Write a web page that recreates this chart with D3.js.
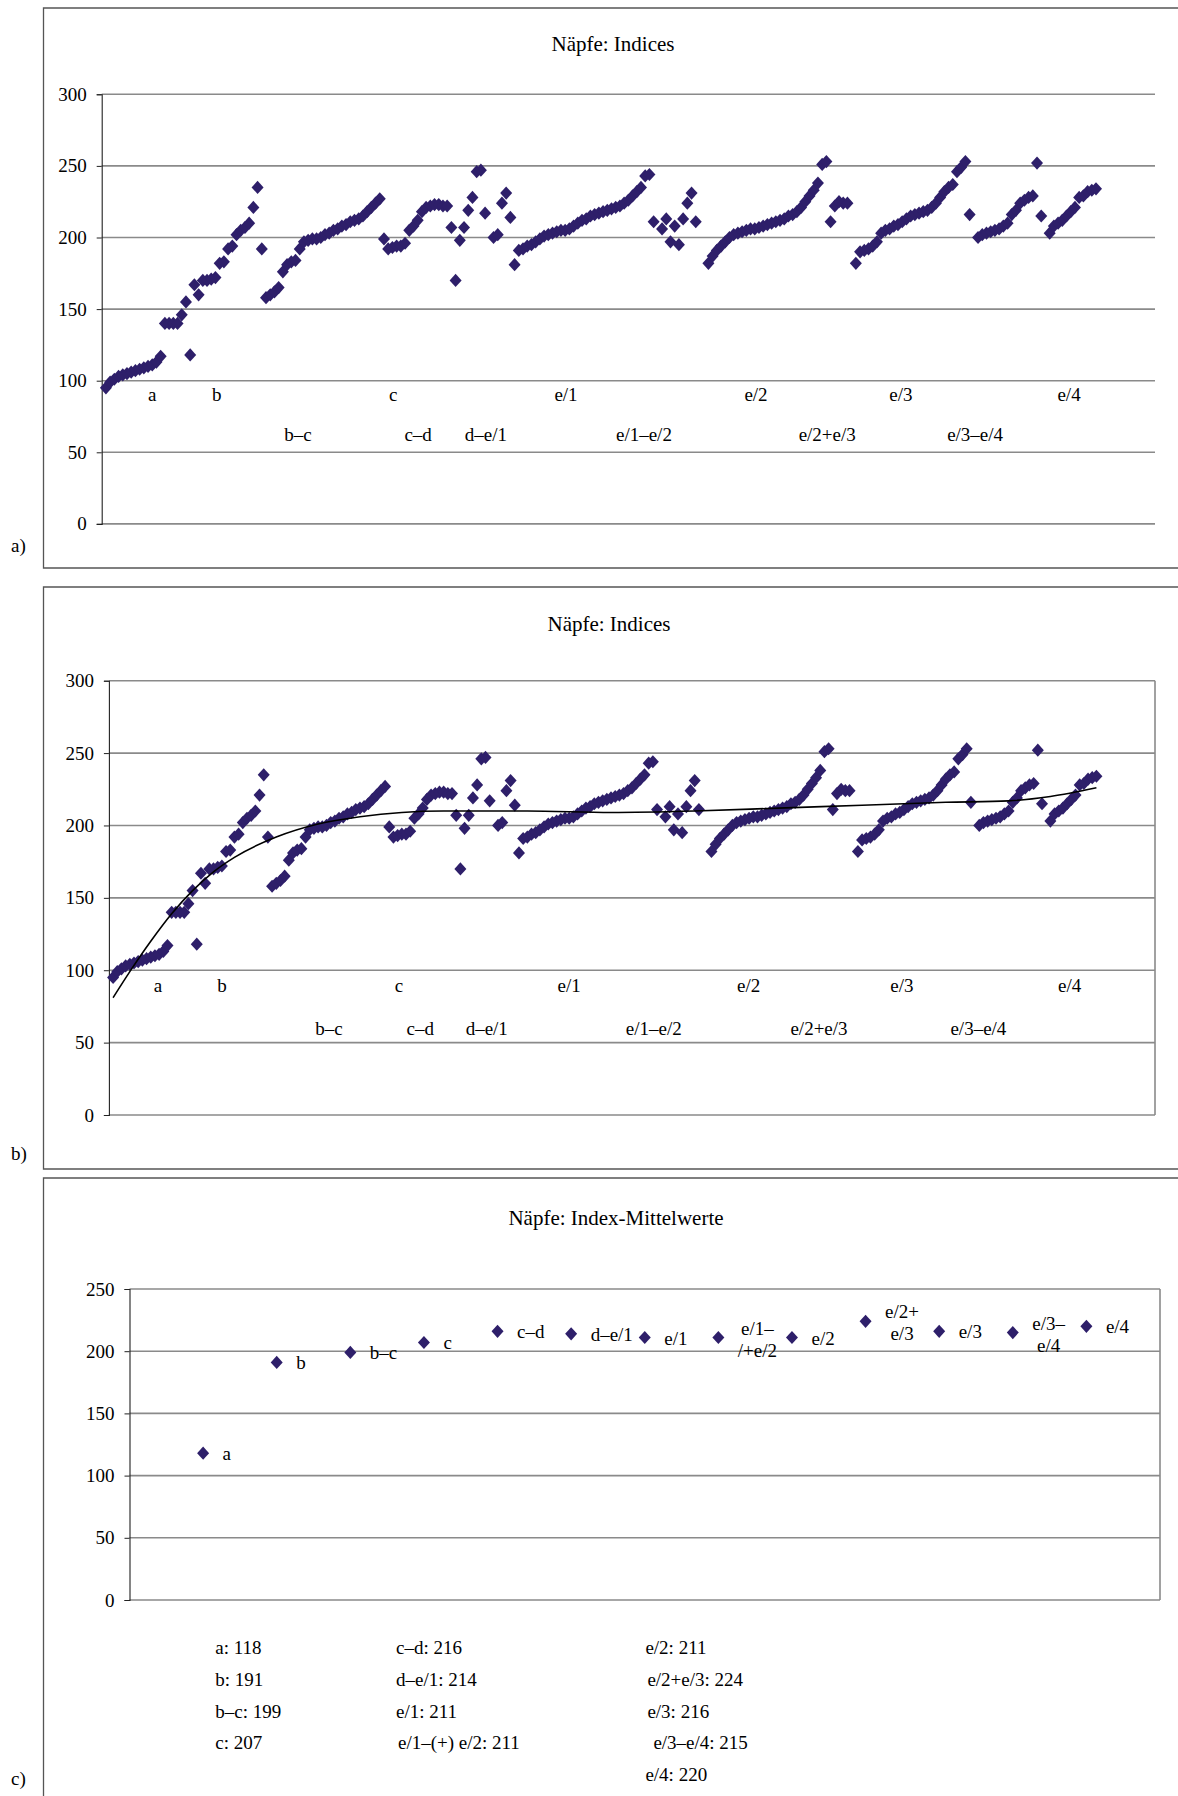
<!DOCTYPE html>
<html>
<head>
<meta charset="utf-8">
<script src="https://cdn.jsdelivr.net/npm/d3@7"></script>
<style>
  body { margin: 0; background: #fff; }
  text { font-family: "Liberation Serif", "Times New Roman", serif; fill: #000; }
</style>
</head>
<body>
<svg width="1178" height="1796"></svg>
<script>
// ---- data ----
// index values of the bowls, in order of the sample (x = 1 .. n); null = no value at that position
var indexValues = [
  95, 99, 101, 103, 104, 105, 106, 107, 108, 109, 110, 111, 113, 117,
  140, 140, 140, 140, 146, 155, 118, 167, 160, 170, 170, 171, 172, 182, 183, 192, 194, 202, 205, 207, 210, 221, 235, 192, 158,
  160, 162, 165, 176, 181, 183, 184, 192, 197, 198, 199, 199, 200, 202, 203, 205, 206, 208, 209, 211, 212, 213, 215, 218, 221, 224, 227,
  199, 192, 193, 194, 194, 196, 205, 208, 212, 218, 221, 222, 223, 223, 222, 222, 207, 170, 198, 207, 219, 228, 246, 247, 217, null, 200, 202, 224, 231, 214, 181,
  191, 192, 194, 195, 197, 199, 201, 202, 203, 204, 205, 205, 206, 208, 210, 212, 213, 215, 216, 217, 218, 219, 220, 221, 222, 224, 226, 229, 232, 235, 243, 244,
  211, null, 206, 213, 197, 208, 195, 213, 224, 231, 211, null, null,
  182, 187, 191, 194, 197, 200, 202, 203, 204, 205, 206, 206, 207, 208, 209, 210, 211, 212, 213, 215, 216, 218, 221, 225, 229, 233, 238, 251, 253,
  211, 222, 225, 224, 224, null,
  182, 190, 191, 192, 194, 197, 203, 205, 206, 208, 209, 211, 213, 215, 216, 217, 218, 219, 221, 224, 228, 232, 235, 237, 246, 249, 253,
  216, null,
  200, 202, 203, 204, 205, 206, 208, 210, 216, 219, 224, 226, 228, 229, 252, 215, null,
  203, 208, 210, 212, 215, 218, 221, 228, 229, 232, 233, 234
];

// group names written under the points, and where (sample number) they sit
var groupTop = ["a", "b", "c", "e/1", "e/2", "e/3", "e/4"];
var groupBottom = ["b–c", "c–d", "d–e/1", "e/1–e/2", "e/2+e/3", "e/3–e/4"];
var groupTopAtA = [12, 27.3, 69.2, 110.2, 155.3, 189.7, 229.6];
var groupBottomAtA = [46.6, 75.1, 91.2, 128.7, 172.2, 207.3];
var groupTopAtB = [11.7, 27, 69.3, 110, 152.9, 189.5, 229.6];
var groupBottomAtB = [52.6, 74.4, 90.3, 130.2, 169.7, 207.8];

// trend line of panel b
var trendX = [1, 5, 10, 15, 20, 25, 30, 40, 50, 60, 70, 80, 90, 100, 120, 140, 160, 180, 200, 215, 225, 236];
var trendY = [81, 99, 120, 139, 155, 168, 178, 192, 201, 206, 209, 210, 210, 210, 209, 210, 212, 214, 216, 217, 220, 226];

var yTicksIndices = [0, 50, 100, 150, 200, 250, 300];

// panel c: mean index per group
var meanLabelLines = [["a"], ["b"], ["b–c"], ["c"], ["c–d"], ["d–e/1"], ["e/1"], ["e/1–", "/+e/2"], ["e/2"], ["e/2+", "e/3"], ["e/3"], ["e/3–", "e/4"], ["e/4"]];
var meanValues = [118, 191, 199, 207, 216, 214, 211, 211, 211, 224, 216, 215, 220];
var summaryNames = ["a", "b", "b–c", "c", "c–d", "d–e/1", "e/1", "e/1–(+) e/2", "e/2", "e/2+e/3", "e/3", "e/3–e/4", "e/4"];
var yTicksMeans = [0, 50, 100, 150, 200, 250];

// ---- drawing ----
var svg = d3.select("svg");
var dotColor = "#2e1f6a";
var gridColor = "#8a8a8a";
var diamond = "M0,-6.6L6,0L0,6.6L-6,0Z";

function frame(top, bottom) {
  svg.append("path")
    .attr("d", "M1180," + top + "H43.5V" + bottom + "H1180")
    .attr("fill", "none").attr("stroke", "#555").attr("stroke-width", 1.3);
}

function yAxisAndGrid(g, y, ticks, x0, x1) {
  g.selectAll(".grid").data(ticks).enter().append("line")
    .attr("x1", x0).attr("x2", x1)
    .attr("y1", function(d){ return y(d); }).attr("y2", function(d){ return y(d); })
    .attr("stroke", gridColor).attr("stroke-width", 1.6);
  var ax = g.append("g").attr("transform", "translate(" + x0 + ",0)")
    .call(d3.axisLeft(y).tickValues(ticks).tickSize(5).tickPadding(10));
  ax.select(".domain").attr("stroke", "#222").attr("stroke-width", 1.1);
  ax.selectAll(".tick line").attr("stroke", "#222");
  ax.selectAll(".tick text").attr("font-size", "19px").attr("font-family", "Liberation Serif");
}

var samples = indexValues.map(function(v, i){ return { n: i + 1, v: v }; })
  .filter(function(d){ return d.v !== null; });

function drawIndexPanel(cfg) {
  var g = svg.append("g");
  var x = d3.scaleLinear().domain([0, 250]).range([cfg.left, cfg.right]);
  var y = d3.scaleLinear().domain([0, 300]).range([cfg.bottom, cfg.top]);

  yAxisAndGrid(g, y, yTicksIndices, cfg.left, cfg.right);
  if (cfg.boxed) {
    g.append("line").attr("x1", cfg.right).attr("x2", cfg.right)
      .attr("y1", cfg.top).attr("y2", cfg.bottom)
      .attr("stroke", gridColor).attr("stroke-width", 1.6);
  }

  g.append("text").attr("x", cfg.titleX).attr("y", cfg.titleY)
    .attr("text-anchor", "middle").attr("font-size", "21px").text("Näpfe: Indices");

  g.selectAll(".pt").data(samples).enter().append("path")
    .attr("d", diamond).attr("fill", dotColor)
    .attr("transform", function(d){ return "translate(" + x(d.n) + "," + y(d.v) + ")"; });

  g.selectAll(".gt").data(groupTop).enter().append("text")
    .attr("x", function(d, i){ return x(cfg.topAt[i]); })
    .attr("y", y(cfg.rowTop))
    .attr("text-anchor", "middle").attr("font-size", "19px").text(function(d){ return d; });
  g.selectAll(".gb").data(groupBottom).enter().append("text")
    .attr("x", function(d, i){ return x(cfg.bottomAt[i]); })
    .attr("y", y(cfg.rowBottom))
    .attr("text-anchor", "middle").attr("font-size", "19px").text(function(d){ return d; });

  if (cfg.trend) {
    var pts = trendX.map(function(d, i){ return [d, trendY[i]]; });
    g.append("path").datum(pts)
      .attr("d", d3.line().x(function(d){ return x(d[0]); }).y(function(d){ return y(d[1]); }).curve(d3.curveMonotoneX))
      .attr("fill", "none").attr("stroke", "#000").attr("stroke-width", 1.6);
  }

  g.append("text").attr("x", 11).attr("y", cfg.tagY).attr("font-size", "19px").text(cfg.tag);
}

// panel a
frame(8, 568);
drawIndexPanel({ left: 101.7, right: 1155, top: 94.3, bottom: 523.9, titleX: 613, titleY: 51,
  topAt: groupTopAtA, bottomAt: groupBottomAtA, rowTop: 86, rowBottom: 58,
  trend: false, boxed: false, tag: "a)", tagY: 552 });

// panel b
frame(587, 1169);
drawIndexPanel({ left: 108.9, right: 1155, top: 680.7, bottom: 1115, titleX: 609, titleY: 631,
  topAt: groupTopAtB, bottomAt: groupBottomAtB, rowTop: 85, rowBottom: 55.5,
  trend: true, boxed: true, tag: "b)", tagY: 1160 });

// panel c
frame(1178, 1800);
(function() {
  var left = 129.5, right = 1160, top = 1289, bottom = 1600;
  var g = svg.append("g");
  var x = d3.scaleLinear().domain([0, 14]).range([left, right]);
  var y = d3.scaleLinear().domain([0, 250]).range([bottom, top]);

  yAxisAndGrid(g, y, yTicksMeans, left, right);
  g.append("line").attr("x1", right).attr("x2", right).attr("y1", top).attr("y2", bottom)
    .attr("stroke", gridColor).attr("stroke-width", 1.6);

  g.append("text").attr("x", 616).attr("y", 1225)
    .attr("text-anchor", "middle").attr("font-size", "21px").text("Näpfe: Index-Mittelwerte");

  g.selectAll(".pt").data(meanValues).enter().append("path")
    .attr("d", diamond).attr("fill", dotColor)
    .attr("transform", function(d, i){ return "translate(" + x(i + 1) + "," + y(d) + ")"; });

  meanValues.forEach(function(v, i) {
    var lines = meanLabelLines[i];
    var px = x(i + 1), py = y(v);
    if (lines.length === 1) {
      g.append("text").attr("x", px + 19.5).attr("y", py + 7)
        .attr("font-size", "19px").text(lines[0]);
    } else {
      var t = g.append("text").attr("font-size", "19px").attr("text-anchor", "middle");
      var t1 = t.append("tspan").text(lines[0]);
      var t2 = t.append("tspan").text(lines[1]);
      var w = Math.max(t1.node().getComputedTextLength(), t2.node().getComputedTextLength());
      var cx = px + 19.5 + w / 2;
      t1.attr("x", cx).attr("y", py - 3);
      t2.attr("x", cx).attr("y", py + 19);
    }
  });

  // value list below the chart
  var colX = [215.3, 396, 645.4];
  var rowY = [1654, 1686, 1718, 1749, 1781];
  var layout = [[0,0,0],[0,1,0],[0,2,0],[0,3,0],[1,0,0],[1,1,0],[1,2,0],[1,3,2],[2,0,0],[2,1,2],[2,2,2],[2,3,8],[2,4,0]];
  summaryNames.forEach(function(n, i) {
    var c = layout[i];
    g.append("text").attr("x", colX[c[0]] + c[2]).attr("y", rowY[c[1]])
      .attr("font-size", "19px").text(n + ": " + meanValues[i]);
  });

  g.append("text").attr("x", 11).attr("y", 1785).attr("font-size", "19px").text("c)");
})();
</script>
</body>
</html>
